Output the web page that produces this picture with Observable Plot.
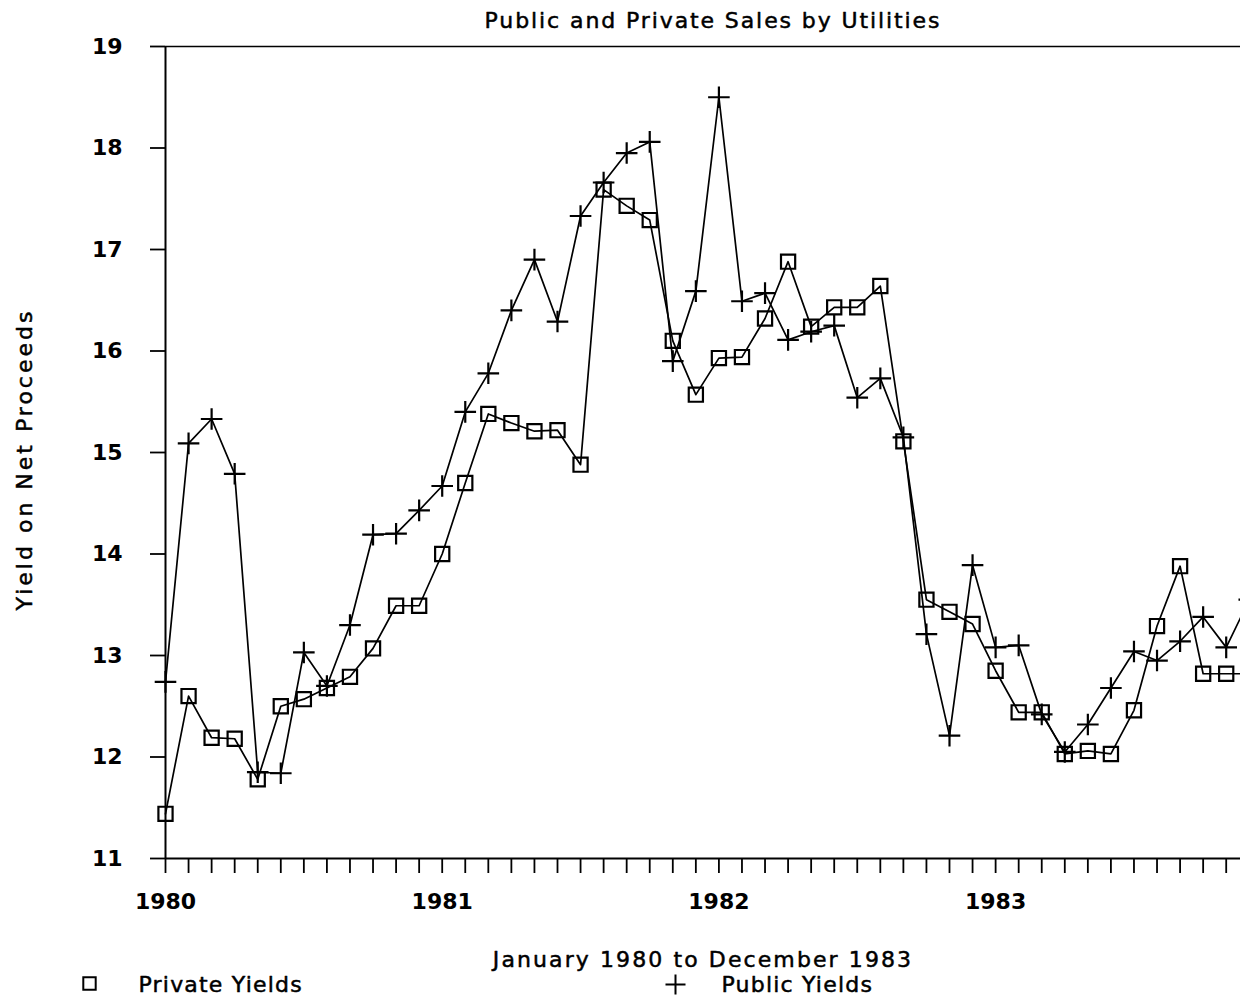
<!DOCTYPE html>
<html>
<head>
<meta charset="utf-8">
<script src="https://cdn.jsdelivr.net/npm/d3@7"></script>
<script src="https://cdn.jsdelivr.net/npm/@observablehq/plot@0.6"></script>
<style>
  html, body { margin: 0; padding: 0; background: white; }
</style>
</head>
<body>
<div id="chart"></div>
<script>
// Months: index 0 = January 1980 ... 47 = December 1983
const months = d3.range(48);
const yearLabels = ["1980", "1981", "1982", "1983"];
const yTicks = [11, 12, 13, 14, 15, 16, 17, 18, 19];

const privateYields = [
  11.44, 12.60, 12.19, 12.18, 11.78, 12.50, 12.57, 12.68, 12.79, 13.07, 13.49, 13.49,
  14.00, 14.70, 15.38, 15.29, 15.21, 15.22, 14.88, 17.59, 17.43, 17.29, 16.10, 15.57,
  15.93, 15.94, 16.32, 16.88, 16.24, 16.43, 16.43, 16.64, 15.11, 13.55, 13.43, 13.31,
  12.85, 12.44, 12.44, 12.03, 12.06, 12.03, 12.46, 13.29, 13.88, 12.82, 12.82, 12.82
];
const publicYields = [
  12.74, 15.09, 15.33, 14.79, 11.85, 11.84, 13.03, 12.70, 13.30, 14.19, 14.20, 14.43,
  14.67, 15.40, 15.78, 16.40, 16.90, 16.29, 17.33, 17.66, 17.95, 18.06, 15.90, 16.59,
  18.50, 16.49, 16.57, 16.11, 16.19, 16.25, 15.54, 15.73, 15.15, 13.21, 12.21, 13.89,
  13.08, 13.10, 12.42, 12.05, 12.32, 12.68, 13.04, 12.95, 13.14, 13.38, 13.08, 13.55
];

const titleText = "Public and Private Sales by Utilities";
const xLabelText = "January 1980 to December 1983";
const yLabelText = "Yield on Net Proceeds";
const legendLabels = ["Private Yields", "Public Yields"];

const privateData = months.map((m, i) => ({month: m, value: privateYields[i]}));
const publicData = months.map((m, i) => ({month: m, value: publicYields[i]}));

const FONT = "DejaVu Sans";
const textStyle = {fontSize: 22, fill: "black", stroke: "black", strokeWidth: 0.5, paintOrder: "fill"};

const chart = Plot.plot({
  width: 1240,
  height: 998,
  marginLeft: 165,
  marginRight: 0,
  marginTop: 46,
  marginBottom: 140,
  style: {fontFamily: FONT, color: "black", background: "white", overflow: "hidden"},
  x: {domain: [0, 46.62], axis: null},
  y: {domain: [11, 19], axis: null},
  marks: [
    Plot.ruleY([19], {stroke: "black", strokeWidth: 1.5}),
    Plot.ruleY([11], {stroke: "black", strokeWidth: 2}),
    Plot.ruleX([0], {stroke: "black", strokeWidth: 2}),
    Plot.axisY(yTicks, {
      anchor: "left", tickSize: 15, tickPadding: 28, fontSize: 22, fontWeight: "bold",
      strokeWidth: 1.8, label: null, tickFormat: d => String(d)
    }),
    Plot.axisX(months.slice(0, 47), {
      anchor: "bottom", tickSize: 15, tickPadding: 20, fontSize: 22, fontWeight: "bold",
      strokeWidth: 1.8, label: null,
      tickFormat: d => (d % 12 === 0 ? yearLabels[d / 12] : "")
    }),
    Plot.line(publicData, {x: "month", y: "value", stroke: "black", strokeWidth: 1.7}),
    Plot.line(privateData, {x: "month", y: "value", stroke: "black", strokeWidth: 1.7}),
    Plot.dot(publicData, {x: "month", y: "value", symbol: "plus", r: 7, stroke: "black", strokeWidth: 2.2}),
    Plot.dot(privateData, {x: "month", y: "value", symbol: "square", r: 8, stroke: "black", fill: "none", strokeWidth: 2.2}),
    // Title
    Plot.text([titleText], {frameAnchor: "top", dx: 10, dy: -26, lineAnchor: "middle", ...textStyle}),
    // X label
    Plot.text([xLabelText], {frameAnchor: "bottom", dx: 0, dy: 101, lineAnchor: "middle", ...textStyle}),
    // Y label
    Plot.text([yLabelText], {frameAnchor: "left", dx: -141, dy: 7, rotate: -90, textAnchor: "middle", lineAnchor: "middle", ...textStyle}),
    // Legend
    Plot.dot([legendLabels[0]], {frameAnchor: "bottom-left", dx: -76, dy: 125, symbol: "square", r: 7, stroke: "black", fill: "none", strokeWidth: 2}),
    Plot.text([legendLabels[0]], {frameAnchor: "bottom-left", dx: -27, dy: 126, textAnchor: "start", lineAnchor: "middle", ...textStyle}),
    Plot.dot([legendLabels[1]], {frameAnchor: "bottom-left", dx: 510, dy: 126, symbol: "plus", r: 6.5, stroke: "black", strokeWidth: 2}),
    Plot.text([legendLabels[1]], {frameAnchor: "bottom-left", dx: 556, dy: 126, textAnchor: "start", lineAnchor: "middle", ...textStyle})
  ]
});

document.getElementById("chart").appendChild(chart);

// letter spacing to mimic the wide plotter font
const spacing = new Map([
  [titleText, "1.9px"],
  [xLabelText, "2.1px"],
  [yLabelText, "3px"],
  [legendLabels[0], "1.2px"],
  [legendLabels[1], "1.2px"]
]);
d3.select(chart).selectAll("text").each(function () {
  const s = spacing.get(this.textContent);
  if (s) this.style.letterSpacing = s;
});
</script>
</body>
</html>
